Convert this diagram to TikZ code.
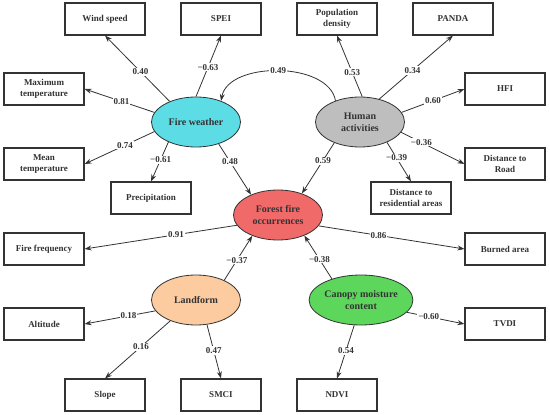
\documentclass[tikz,border=0pt]{standalone}
\usepackage{fontspec}
\setmainfont{Liberation Serif}
\usetikzlibrary{shapes.geometric,arrows.meta}
\definecolor{txt}{HTML}{333333}
\definecolor{ln}{HTML}{333333}
\definecolor{fwc}{HTML}{5CDCE4}
\definecolor{hac}{HTML}{BEBEBE}
\definecolor{ffc}{HTML}{F06A6A}
\definecolor{lfc}{HTML}{FCCBA0}
\definecolor{cmc}{HTML}{5CD75C}
\tikzset{
  box/.style={draw=ln, line width=1.1pt, minimum width=80pt, minimum height=32pt, inner sep=0pt, fill=white, align=center, text=txt, font=\fontsize{9}{11.5}\selectfont\bfseries},
  lat/.style={ellipse, draw=ln, line width=0.8pt, minimum width=89pt, minimum height=50pt, inner sep=0pt, align=center, text=txt, font=\fontsize{10}{11.7}\selectfont\bfseries},
  arr/.style={draw=ln, line width=0.8pt, -{Stealth[length=7pt,width=5pt]}},
  lab/.style={fill=white, inner sep=1pt, text=txt, font=\fontsize{9}{10}\selectfont\bfseries}
}
\begin{document}
\begin{tikzpicture}[x=1pt,y=-1pt]
\useasboundingbox[fill=white] (0,0) rectangle (550,415);
% boxes
\node[box] (ws) at (105,19) {Wind speed};
\node[box] (spei) at (221,19) {SPEI};
\node[box] (pop) at (337,19) {Population\\density};
\node[box] (panda) at (453,19) {PANDA};
\node[box] (mxt) at (44,89) {Maximum\\temperature};
\node[box] (hfi) at (505,89) {HFI};
\node[box] (mnt) at (44,164) {Mean\\temperature};
\node[box] (road) at (505,164) {Distance to\\Road};
\node[box] (prec) at (151,198) {Precipitation};
\node[box] (res) at (411,198) {Distance to\\residential areas};
\node[box] (ff) at (44,249) {Fire frequency};
\node[box] (ba) at (505,249) {Burned area};
\node[box] (alt) at (44,324) {Altitude};
\node[box] (tvdi) at (505,324) {TVDI};
\node[box] (slope) at (105,395) {Slope};
\node[box] (smci) at (221,395) {SMCI};
\node[box] (ndvi) at (337,395) {NDVI};
% latent
\node[lat, fill=fwc] (fw) at (196,122) {Fire weather};
\node[lat, fill=hac] (ha) at (360,122) {Human\\activities};
\node[lat, fill=ffc] (ffo) at (278,215) {Forest fire\\occurrences};
\node[lat, fill=lfc] (lf) at (196,300) {Landform};
\node[lat, fill=cmc] (cm) at (361,300) {Canopy moisture\\content};
% fire weather
\draw[arr] (fw.142) -- node[lab, pos=0.45] {0.40} (ws.south);
\draw[arr] (fw.90) -- node[lab, pos=0.48] {−0.63} (spei.south);
\draw[arr] (fw.167) -- node[lab, pos=0.47] {0.81} (mxt.east);
\draw[arr] (fw.193) -- node[lab, pos=0.42] {0.74} (mnt.east);
\draw[arr] (fw.216) -- node[lab, pos=0.45] {−0.61} (prec.north);
\draw[arr] (fw.-44) -- node[lab, pos=0.35] {0.48} (ffo.143);
% human activities
\draw[arr] (ha.85) -- node[lab, pos=0.4] {0.53} (pop.south);
\draw[arr] (ha.50) -- node[lab, pos=0.45] {0.34} (panda.south);
\draw[arr] (ha.13) -- node[lab, pos=0.5] {0.60} (hfi.west);
\draw[arr] (ha.-14) -- node[lab, pos=0.32] {−0.36} (road.west);
\draw[arr] (ha.-37) -- node[lab, pos=0.4] {−0.39} (res.north);
\draw[arr] (ha.219) -- node[lab, pos=0.35] {0.59} (ffo.42);
\draw[arr] (ha.139) to[out=100, in=80, looseness=0.9] node[lab, pos=0.5] {0.49} (fw.40);
% forest fire
\draw[arr] (ffo.194) -- node[lab, pos=0.4] {0.91} (ff.east);
\draw[arr] (ffo.-15) -- node[lab, pos=0.41] {0.86} (ba.west);
% landform
\draw[arr] (lf.35) -- node[lab, pos=0.45] {−0.37} (ffo.219);
\draw[arr] (lf.195) -- node[lab, pos=0.38] {0.18} (alt.east);
\draw[arr] (lf.219) -- node[lab, pos=0.45] {0.16} (slope.north);
\draw[arr] (lf.-66) -- node[lab, pos=0.48] {0.47} (smci.north);
% canopy
\draw[arr] (cm.144) -- node[lab, pos=0.45] {−0.38} (ffo.-38);
\draw[arr] (cm.-15) -- node[lab, pos=0.38] {−0.60} (tvdi.west);
\draw[arr] (cm.-105) -- node[lab, pos=0.48] {0.54} (ndvi.north);
\end{tikzpicture}
\end{document}
